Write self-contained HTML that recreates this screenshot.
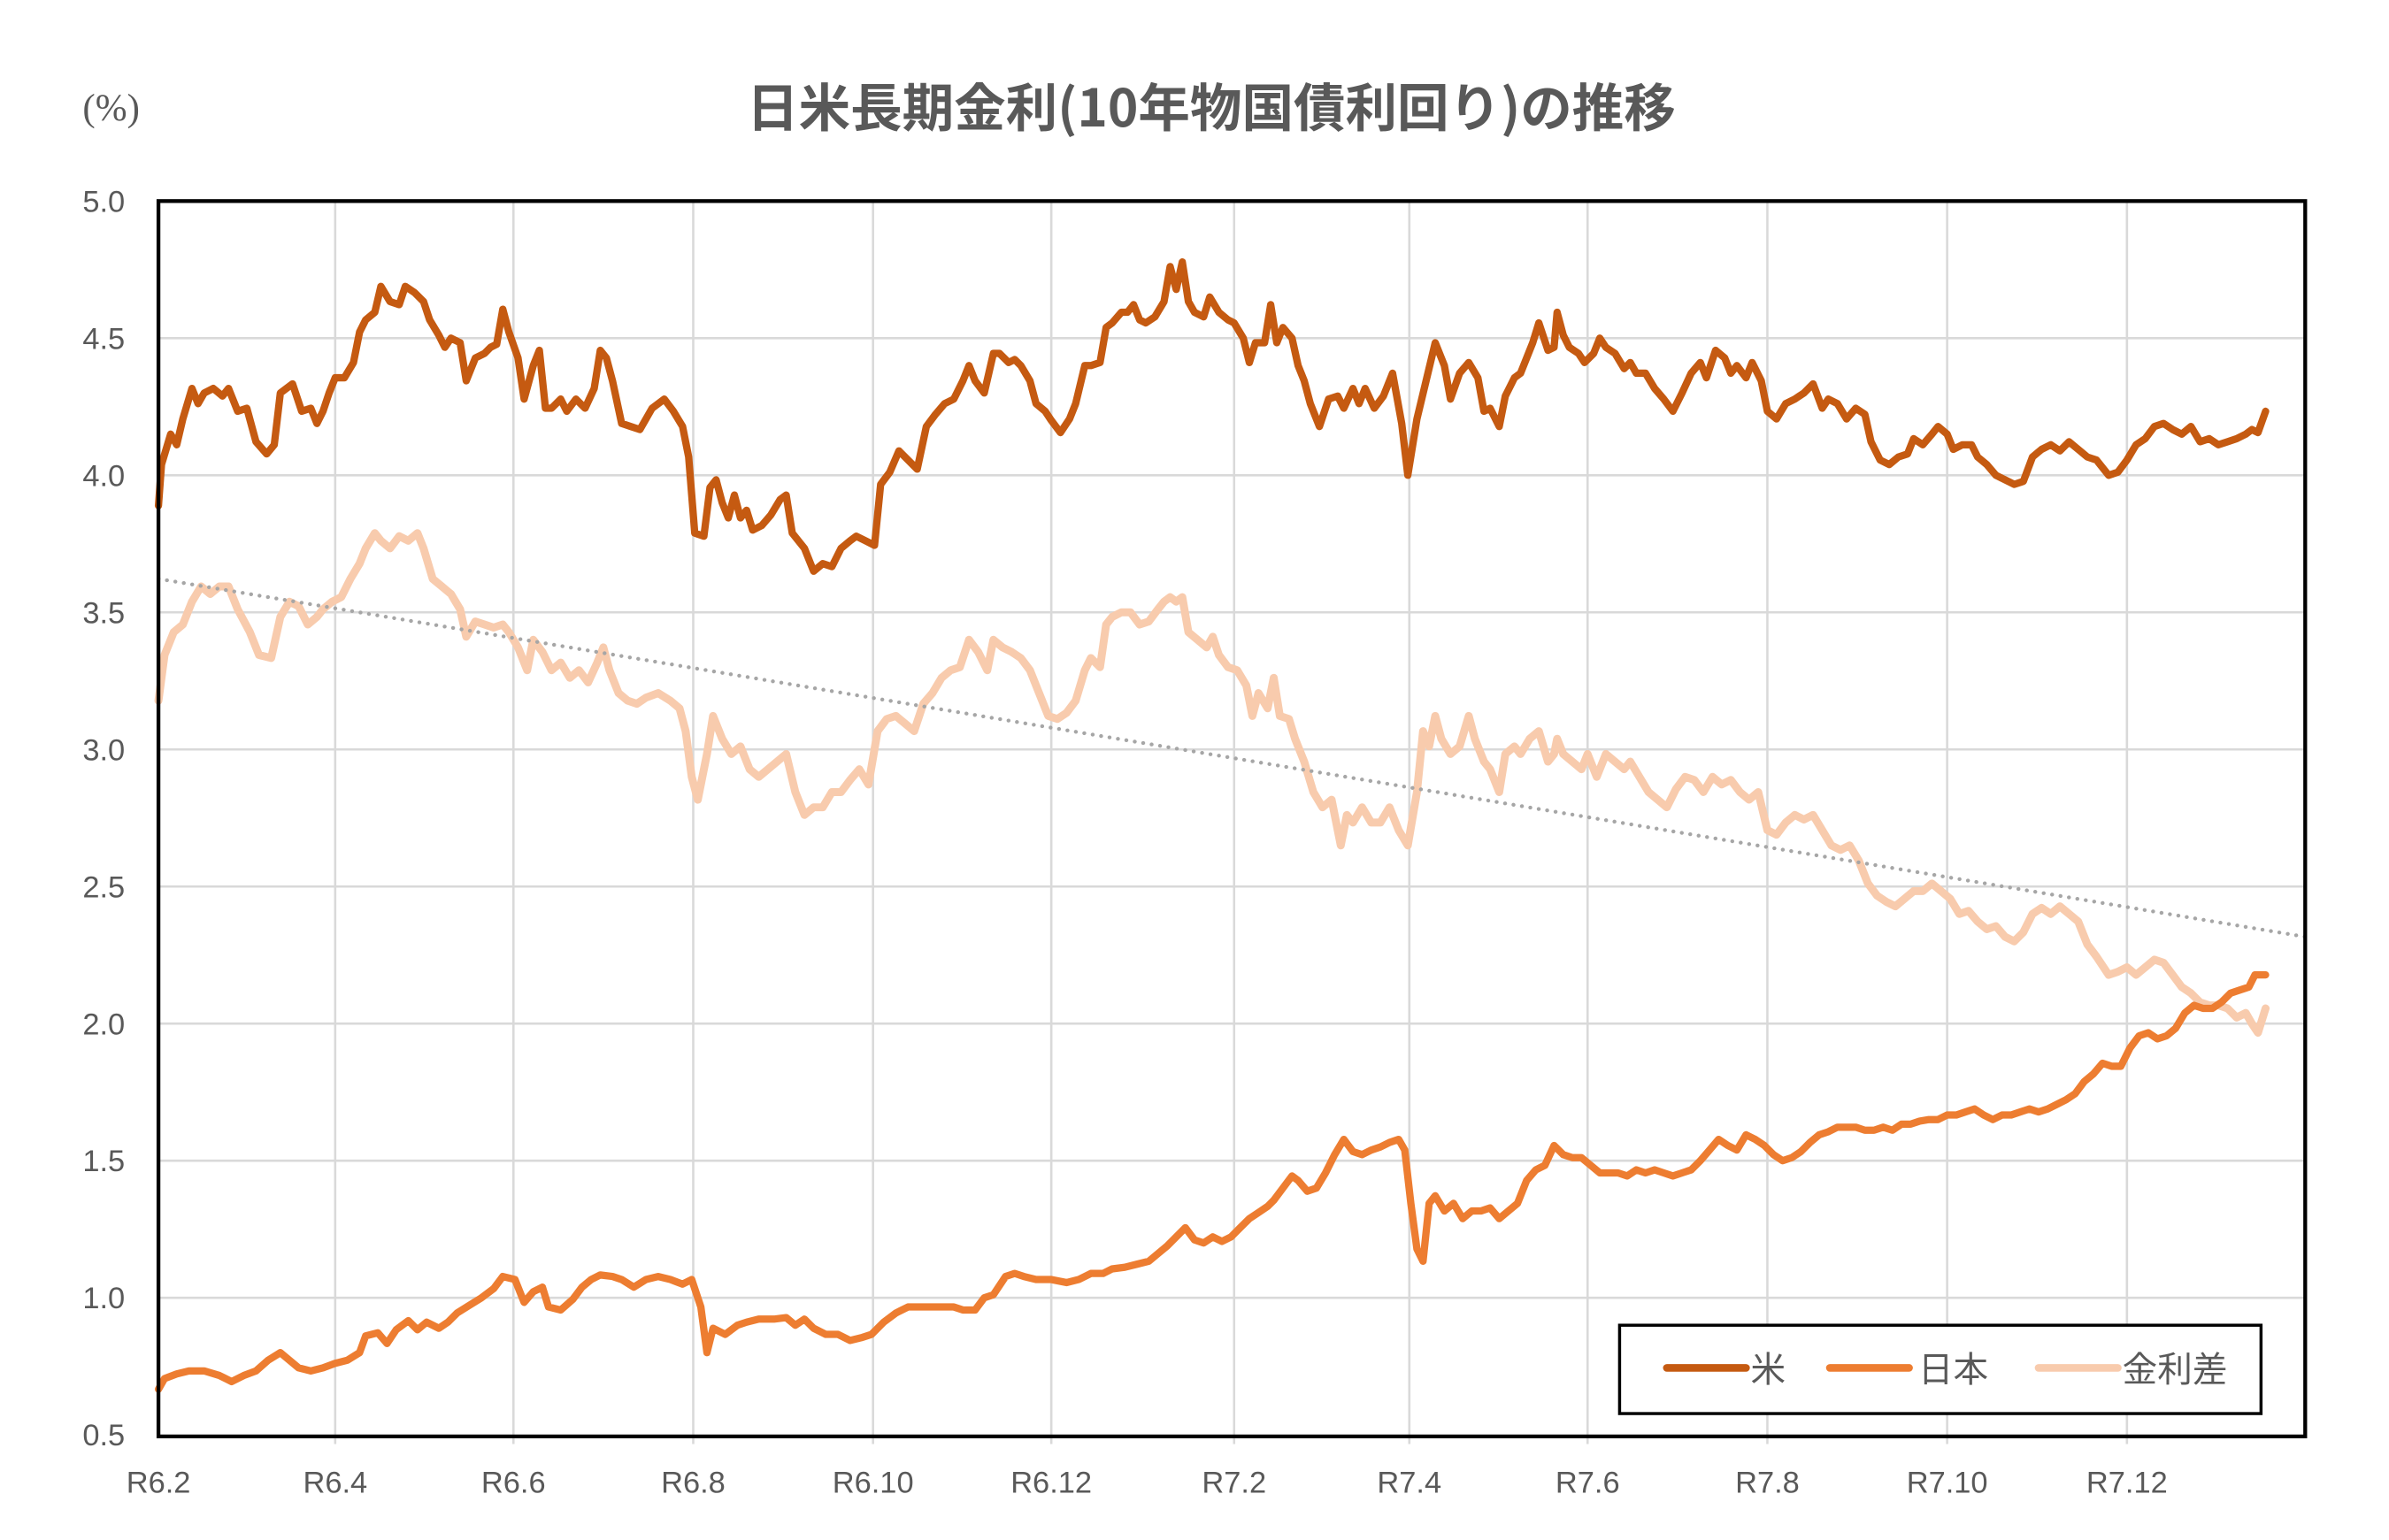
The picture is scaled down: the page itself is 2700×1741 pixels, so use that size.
<!DOCTYPE html>
<html><head><meta charset="utf-8"><style>html,body{margin:0;padding:0;background:#fff}svg{display:block}</style></head>
<body>
<svg xmlns="http://www.w3.org/2000/svg" width="2700" height="1741" viewBox="0 0 1568 1011" preserveAspectRatio="none" font-family="Liberation Sans, Noto Sans CJK JP, sans-serif">
<rect width="1568" height="1011" fill="#fff"/>
<text x="73" y="79" font-size="25" fill="#595959" text-anchor="middle" font-family="Liberation Serif, Noto Serif CJK SC, serif">(%)</text>
<text x="795" y="83" font-size="34" font-weight="bold" fill="#595959" text-anchor="middle" font-family="Noto Sans CJK JP, sans-serif">日米長期金利(10年物国債利回り)の推移</text>
<g stroke="#d9d9d9" stroke-width="1.5">
<line x1="104" y1="222" x2="1513" y2="222"/><line x1="104" y1="312" x2="1513" y2="312"/><line x1="104" y1="402" x2="1513" y2="402"/><line x1="104" y1="492" x2="1513" y2="492"/><line x1="104" y1="582" x2="1513" y2="582"/><line x1="104" y1="672" x2="1513" y2="672"/><line x1="104" y1="762" x2="1513" y2="762"/><line x1="104" y1="852" x2="1513" y2="852"/>
<line x1="220" y1="132" x2="220" y2="948"/><line x1="337" y1="132" x2="337" y2="948"/><line x1="455" y1="132" x2="455" y2="948"/><line x1="573" y1="132" x2="573" y2="948"/><line x1="690" y1="132" x2="690" y2="948"/><line x1="810" y1="132" x2="810" y2="948"/><line x1="925" y1="132" x2="925" y2="948"/><line x1="1042" y1="132" x2="1042" y2="948"/><line x1="1160" y1="132" x2="1160" y2="948"/><line x1="1278" y1="132" x2="1278" y2="948"/><line x1="1396" y1="132" x2="1396" y2="948"/>
<line x1="104" y1="943" x2="1513" y2="943" stroke-width="2"/>
</g>
<g font-size="20" fill="#595959" text-anchor="end">
<text x="82" y="139">5.0</text><text x="82" y="229">4.5</text><text x="82" y="319">4.0</text><text x="82" y="409">3.5</text><text x="82" y="499">3.0</text><text x="82" y="589">2.5</text><text x="82" y="679">2.0</text><text x="82" y="769">1.5</text><text x="82" y="859">1.0</text><text x="82" y="949">0.5</text>
</g>
<g font-size="20" fill="#595959" text-anchor="middle">
<text x="104" y="980">R6.2</text><text x="220" y="980">R6.4</text><text x="337" y="980">R6.6</text><text x="455" y="980">R6.8</text><text x="573" y="980">R6.10</text><text x="690" y="980">R6.12</text><text x="810" y="980">R7.2</text><text x="925" y="980">R7.4</text><text x="1042" y="980">R7.6</text><text x="1160" y="980">R7.8</text><text x="1278" y="980">R7.10</text><text x="1396" y="980">R7.12</text>
</g>
<g fill="none" stroke-linejoin="round" stroke-linecap="round">
<polyline stroke="#F8CBAD" stroke-width="5.2" points="104,460 108,430 114,415 120,410 126,395 132,385 138,390 144,385 150,385 156,400 164,415 170,430 178,432 184,405 190,395 196,398 202,410 208,405 212,400 218,395 224,392 230,380 236,370 240,360 246,350 250,355 256,360 262,352 268,355 274,350 278,360 284,380 290,385 296,390 302,400 306,418 312,408 318,410 324,412 330,410 334,415 340,425 346,440 350,420 356,428 362,440 368,435 374,445 380,440 386,448 392,435 396,425 400,440 406,455 412,460 418,462 424,458 432,455 440,460 446,465 450,480 454,510 458,525 464,495 468,470 474,485 480,495 486,490 492,505 498,510 504,505 510,500 516,495 522,520 528,535 534,530 540,530 546,520 552,520 558,512 564,505 570,515 576,480 582,472 588,470 594,475 600,480 606,462 612,455 618,445 624,440 630,438 636,420 642,428 648,440 652,420 658,425 664,428 670,432 676,440 682,455 688,470 694,472 700,468 706,460 712,440 716,432 722,438 726,410 730,405 736,402 742,402 748,410 754,408 760,400 764,395 768,392 772,395 776,392 780,415 786,420 792,425 796,418 800,430 806,438 812,440 818,450 822,470 826,455 832,465 836,445 840,470 846,472 850,485 856,500 862,520 868,530 874,525 880,555 884,535 888,540 894,530 900,540 906,540 912,530 918,545 924,555 930,520 934,480 938,490 942,470 946,485 952,495 958,490 964,470 968,485 974,500 978,505 984,520 988,495 994,490 998,495 1004,485 1010,480 1016,500 1020,495 1022,485 1026,495 1032,500 1038,505 1042,495 1048,510 1054,495 1060,500 1066,505 1070,500 1076,510 1082,520 1088,525 1094,530 1100,518 1106,510 1112,512 1118,520 1124,510 1130,515 1136,512 1142,520 1148,525 1154,520 1160,545 1166,548 1172,540 1178,535 1184,538 1190,535 1196,545 1202,555 1208,558 1214,555 1220,565 1226,580 1232,588 1238,592 1244,595 1250,590 1256,585 1262,585 1268,580 1274,585 1280,590 1286,600 1292,598 1298,605 1304,610 1310,608 1316,615 1322,618 1328,612 1334,600 1340,596 1346,600 1352,595 1358,600 1364,605 1370,620 1376,628 1384,640 1390,638 1396,635 1402,640 1408,635 1414,630 1420,632 1426,640 1432,648 1438,652 1444,658 1450,660 1456,660 1462,662 1468,668 1474,665 1478,672 1482,678 1487,662"/>
<line x1="104" y1="380" x2="1513" y2="615" stroke="#a6a6a6" stroke-width="2.5" stroke-dasharray="0.1 5.5" stroke-linecap="round"/>
<polyline stroke="#ED7D31" stroke-width="4.8" points="104,912 108,905 116,902 124,900 134,900 144,903 152,907 160,903 168,900 176,893 184,888 190,893 196,898 204,900 212,898 220,895 228,893 236,888 240,877 248,875 254,882 260,873 268,867 274,873 280,868 288,872 294,868 300,862 308,857 316,852 324,846 330,838 338,840 344,855 350,848 356,845 360,858 368,860 376,853 382,845 388,840 394,837 402,838 408,840 416,845 424,840 432,838 440,840 448,843 454,840 460,858 464,888 468,872 476,876 484,870 490,868 498,866 508,866 516,865 522,870 528,866 534,872 542,876 550,876 558,880 566,878 572,876 580,868 588,862 596,858 604,858 612,858 620,858 626,858 632,860 640,860 646,852 652,850 660,838 666,836 672,838 680,840 690,840 700,842 708,840 716,836 724,836 730,833 738,832 746,830 754,828 760,823 766,818 772,812 778,806 784,814 790,816 796,812 802,815 808,812 814,806 820,800 826,796 832,792 836,788 842,780 848,772 852,775 858,782 864,780 870,770 876,758 882,748 888,756 894,758 900,755 906,753 912,750 918,748 922,755 926,790 930,820 934,828 938,790 942,785 948,795 954,790 960,800 966,795 972,795 978,793 984,800 990,795 996,790 1002,775 1008,768 1014,765 1020,752 1026,758 1032,760 1038,760 1044,765 1050,770 1056,770 1062,770 1068,772 1074,768 1080,770 1086,768 1092,770 1098,772 1104,770 1110,768 1116,762 1122,755 1128,748 1134,752 1140,755 1146,745 1152,748 1158,752 1164,758 1170,762 1176,760 1182,756 1188,750 1194,745 1200,743 1206,740 1212,740 1218,740 1224,742 1230,742 1236,740 1242,742 1248,738 1254,738 1260,736 1266,735 1272,735 1278,732 1284,732 1290,730 1296,728 1302,732 1308,735 1314,732 1320,732 1326,730 1332,728 1338,730 1344,728 1350,725 1356,722 1362,718 1368,710 1374,705 1380,698 1386,700 1392,700 1398,688 1404,680 1410,678 1416,682 1422,680 1428,675 1434,665 1440,660 1446,662 1452,662 1458,658 1464,652 1470,650 1476,648 1480,640 1487,640"/>
<polyline stroke="#C55A11" stroke-width="4.8" points="104,332 106,305 112,285 116,292 120,275 126,255 130,265 134,258 140,255 146,260 150,255 156,270 162,268 168,290 175,298 180,292 184,258 192,252 198,270 204,268 208,278 212,270 216,258 220,248 226,248 232,238 236,218 240,210 246,205 250,188 256,198 262,200 266,188 272,192 278,198 282,210 288,220 292,228 296,222 302,225 306,250 312,235 318,232 322,228 326,226 330,203 334,218 340,235 344,262 350,240 354,230 358,268 362,268 368,262 372,270 378,262 384,268 390,255 394,230 398,235 402,250 408,278 414,280 420,282 428,268 436,262 442,270 448,280 452,300 456,350 462,352 466,320 470,315 474,330 478,340 482,325 486,340 490,335 494,348 500,345 506,338 512,328 516,325 520,350 528,360 534,375 540,370 546,372 552,360 558,355 562,352 568,355 574,358 578,318 584,310 590,296 596,302 602,308 608,280 614,272 620,265 626,262 632,250 636,240 640,250 646,258 652,232 656,232 662,238 666,236 670,240 676,250 680,265 686,270 690,276 696,284 702,275 706,265 712,240 716,240 722,238 726,215 730,212 736,205 740,205 744,200 748,210 752,212 758,208 764,198 768,175 772,190 776,172 780,198 784,205 790,208 794,195 800,205 806,210 810,212 816,222 820,238 824,225 830,225 834,200 838,225 842,215 848,222 852,240 856,250 860,265 866,280 872,262 878,260 882,268 888,255 892,265 896,255 902,268 908,260 914,245 920,278 924,312 930,275 936,250 942,225 948,240 952,262 958,245 964,238 970,248 974,270 978,268 984,280 988,260 994,248 998,245 1002,235 1006,225 1010,212 1016,230 1020,228 1022,205 1026,220 1030,228 1036,232 1040,238 1046,232 1050,222 1054,228 1060,232 1066,242 1070,238 1074,245 1080,245 1086,255 1092,262 1098,270 1104,258 1110,245 1116,238 1120,248 1126,230 1132,235 1136,245 1140,240 1146,248 1150,238 1156,250 1160,270 1166,275 1172,265 1178,262 1184,258 1190,252 1196,268 1200,262 1206,265 1212,275 1218,268 1224,272 1228,290 1234,302 1240,305 1246,300 1252,298 1256,288 1262,292 1268,285 1272,280 1278,285 1282,295 1288,292 1294,292 1298,300 1304,305 1310,312 1316,315 1322,318 1328,316 1334,300 1340,295 1346,292 1352,296 1358,290 1364,295 1370,300 1376,302 1384,312 1390,310 1396,302 1402,292 1408,288 1414,280 1420,278 1426,282 1432,285 1438,280 1444,290 1450,288 1456,292 1462,290 1468,288 1474,285 1478,282 1482,284 1487,270"/>
</g>
<rect x="104" y="132" width="1409" height="811" fill="none" stroke="#000" stroke-width="2.5"/>
<rect x="1063" y="870" width="421" height="58" fill="#fff" stroke="#000" stroke-width="2"/>
<g stroke-width="5" stroke-linecap="round">
<line x1="1094" y1="898" x2="1146" y2="898" stroke="#C55A11"/>
<line x1="1201" y1="898" x2="1253" y2="898" stroke="#ED7D31"/>
<line x1="1338" y1="898" x2="1390" y2="898" stroke="#F8CBAD"/>
</g>
<g font-size="23" fill="#595959" font-family="Noto Sans CJK JP, sans-serif">
<text x="1149" y="907">米</text><text x="1259" y="907">日本</text><text x="1393" y="907">金利差</text>
</g>
</svg>
</body></html>
